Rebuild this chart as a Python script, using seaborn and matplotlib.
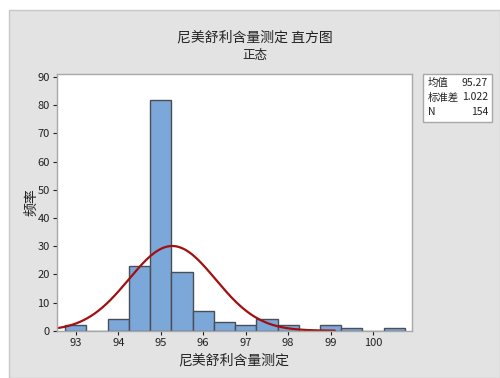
import numpy as np
import pandas as pd
import matplotlib
matplotlib.use("Agg")
import matplotlib.pyplot as plt
from matplotlib.patches import Rectangle
import seaborn as sns

# ---- data ----
bin_centers = [93.0, 93.5, 94.0, 94.5, 95.0, 95.5, 96.0, 96.5, 97.0, 97.5,
               98.0, 98.5, 99.0, 99.5, 100.0, 100.5]
counts = [2, 0, 4, 23, 82, 21, 7, 3, 2, 4, 2, 0, 2, 1, 0, 1]
mean_val = 95.27
std_val = 1.022
n_val = 154
bin_width = 0.5
x_ticks = [93, 94, 95, 96, 97, 98, 99, 100]
y_ticks = [0, 10, 20, 30, 40, 50, 60, 70, 80, 90]
title = "尼美舒利含量测定 直方图"
subtitle = "正态"
xlabel = "尼美舒利含量测定"
ylabel = "频率"
stats_labels = ["均值", "标准差", "N"]
stats_values = ["95.27", "1.022", "154"]

sns.set_theme(style="white")
plt.rcParams['font.family'] = ['Noto Sans CJK SC', 'DejaVu Sans']

fig = plt.figure(figsize=(5.0, 3.78), dpi=100)
fig.patch.set_facecolor("white")
# gray panel
fig.patches.append(Rectangle((9/500, 0), 1 - 9/500, (378 - 10)/378, transform=fig.transFigure,
                             facecolor="#E3E3E3", edgecolor="#C8C8C8", lw=1.0, zorder=-5))

ax = fig.add_axes([56.7/500, 47.3/378, 355/500, 257/378])
ax.set_zorder(1)
ax.set_facecolor("white")

df = pd.DataFrame({"x": bin_centers, "w": counts})
lo = bin_centers[0] - bin_width / 2
hi = bin_centers[-1] + bin_width / 2
sns.histplot(data=df, x="x", weights="w", binwidth=bin_width, binrange=(lo, hi), ax=ax,
             color="#7BA7D9", edgecolor="#4A4F57", linewidth=1.0, alpha=1.0)

xs = np.linspace(92.6, 99.1, 300)
ys = n_val * bin_width * np.exp(-0.5 * ((xs - mean_val) / std_val) ** 2) / (std_val * np.sqrt(2 * np.pi))
sns.lineplot(x=xs, y=ys, ax=ax, color="#A01010", lw=1.6)

ax.set_xlim(92.55, 100.91)
ax.set_ylim(0, 91.2)
ax.set_xticks(x_ticks)
ax.set_yticks(y_ticks)
ax.tick_params(axis="both", labelsize=8, colors="#222222", length=3, width=0.8,
               direction="out", bottom=True, left=True, pad=2)
for t in ax.get_xticklines() + ax.get_yticklines():
    t.set_color("#999999")
for s in ax.spines.values():
    s.set_color("#A8A8A8")
    s.set_linewidth(1.0)
ax.set_xlabel(xlabel, fontsize=10, color="#222222", labelpad=4)
ax.set_ylabel(ylabel, fontsize=10, color="#222222")
ax.yaxis.set_label_coords(-0.052, 0.5)

fig.text(0.51, 1 - 37/378, title, ha="center", va="center", fontsize=10, color="#222222")
fig.text(0.51, 1 - 55/378, subtitle, ha="center", va="center", fontsize=9, color="#222222")

# stats box
fig.patches.append(Rectangle((423/500, 1 - 122/378), 69/500, 48/378, transform=fig.transFigure,
                             facecolor="white", edgecolor="#A8A8A8", lw=1.0, zorder=2))
for i, (lab, val) in enumerate(zip(stats_labels, stats_values)):
    yy = 1 - (83 + i * 14.5) / 378
    fig.text(428/500, yy, lab, ha="left", va="center", fontsize=7.5, color="#222222", zorder=3)
    fig.text(488/500, yy, val, ha="right", va="center", fontsize=7.5, color="#222222", zorder=3)

fig.savefig("out.png", dpi=100)
